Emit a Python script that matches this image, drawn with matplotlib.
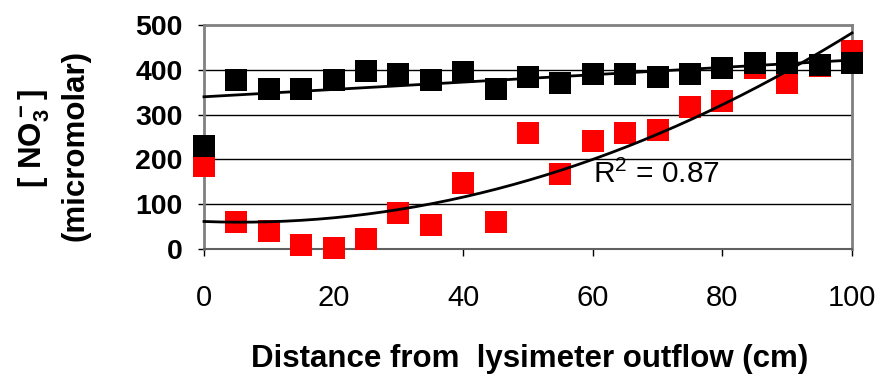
import numpy as np
import matplotlib
matplotlib.use("Agg")
import matplotlib.pyplot as plt

plt.rcParams['font.family'] = ['Liberation Sans', 'DejaVu Sans']
plt.rcParams['mathtext.fontset'] = 'custom'
plt.rcParams['mathtext.rm'] = 'Liberation Sans'
plt.rcParams['mathtext.bf'] = 'Liberation Sans:bold'
plt.rcParams['mathtext.default'] = 'regular'

# Data
distance = [0, 5, 10, 15, 20, 25, 30, 35, 40, 45, 50,
            55, 60, 65, 70, 75, 80, 85, 90, 95, 100]
series_black = [230, 378, 358, 358, 378, 397, 391, 378, 396, 358, 384,
                371, 391, 391, 384, 391, 404, 416, 416, 410, 416]
series_red = [185, 61, 41, 9, 3, 22, 81, 54, 147, 61, 259,
              167, 240, 259, 266, 318, 331, 405, 370, 408, 443]
x_ticks = [0, 20, 40, 60, 80, 100]
y_ticks = [0, 100, 200, 300, 400, 500]
r2_label = r"R$^2$ = 0.87"

fig = plt.figure(figsize=(8.9, 3.76), dpi=100)
ax = fig.add_axes([204/890, 1-249/376, (852-204)/890, (249-25)/376])

x = np.array(distance, dtype=float)
yb = np.array(series_black, dtype=float)
yr = np.array(series_red, dtype=float)

ax.plot(x, yr, 's', color='#ff0000', markersize=16, markeredgewidth=0,
        clip_on=False, zorder=3)
ax.plot(x, yb, 's', color='black', markersize=16, markeredgewidth=0,
        clip_on=False, zorder=4)

xs = np.linspace(0, 100, 200)
pb = np.polyfit(x, yb, 1)
pr = np.polyfit(x, yr, 2)
ax.plot(xs, np.polyval(pb, xs), color='black', lw=2, zorder=5, clip_on=False)
ax.plot(xs, np.polyval(pr, xs), color='black', lw=2, zorder=5, clip_on=False)

ax.set_xlim(0, 100)
ax.set_ylim(0, 500)
ax.set_xticks(x_ticks)
ax.set_yticks(y_ticks)
ax.set_xticklabels([str(v) for v in x_ticks], fontsize=21)
ax.set_yticklabels([str(v) for v in y_ticks], fontsize=20.5, fontweight='bold')
ax.tick_params(axis='y', direction='out', length=4.5, width=1, pad=11, color='black')
ax.tick_params(axis='x', direction='out', length=5, width=1, pad=20, color='black')

for v in y_ticks[1:-1]:
    ax.axhline(v, color='black', lw=1, zorder=1)

for s in ['top', 'right', 'left']:
    ax.spines[s].set_color('#808080')
    ax.spines[s].set_linewidth(2)
ax.spines['bottom'].set_color('#606060')
ax.spines['bottom'].set_linewidth(1.5)

ax.text(60, 167, r2_label, fontsize=21.5, va='center', ha='left', zorder=6)

fig.text(530/890, 1-367/376, "Distance from  lysimeter outflow (cm)",
         fontsize=22.5, fontweight='bold', ha='center', va='baseline')
fig.text(34/890, 1-138/376, r"[ NO$_3^-$]", fontsize=22.5, fontweight='bold',
         rotation=90, ha='center', va='center')
fig.text(76/890, 1-145/376, "(micromolar)", fontsize=22.5, fontweight='bold',
         rotation=90, ha='center', va='center')

fig.savefig("out.png", dpi=100)
